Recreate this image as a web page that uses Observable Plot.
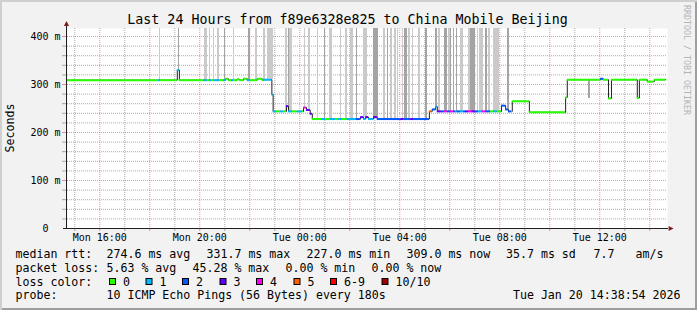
<!DOCTYPE html>
<html><head><meta charset="utf-8">
<script src="https://cdn.jsdelivr.net/npm/d3@7"></script>
<script src="https://cdn.jsdelivr.net/npm/@observablehq/plot@0.6"></script>
<style>
html,body{margin:0;padding:0;background:#fff;}
#chart{position:relative;width:697px;height:310px;background:#f2f2f2;overflow:hidden;
 box-shadow: inset 2px 2px 0 #cfcfcf, inset -2px -2px 0 #9e9e9e;}
#chart svg{position:absolute;left:0;top:0;}
</style></head><body><div id="chart"></div>
<script>
// ---------- data ----------
const titleText = "Last 24 Hours from f89e6328e825 to China Mobile Beijing";
const graphStart = "19T14:42:30", graphEnd = "20T14:42:30";

// median rtt steps (start time, value in ms, lost pings of 10)
const medStart = ["19T14:42","19T18:21","19T18:26","19T19:06","19T19:11","19T20:09","19T20:18","19T20:23","19T20:28","19T20:35",
 "19T20:47","19T20:57","19T21:02","19T21:09","19T21:16","19T21:21","19T21:30","19T21:35","19T21:45","19T21:54",
 "19T22:02","19T22:18","19T22:30","19T22:33","19T22:53","19T22:56","19T23:04","19T23:14","19T23:21","19T23:28",
 "19T23:33","19T23:42","19T23:54","20T00:06","20T00:09","20T00:16","20T00:25","20T00:30","20T00:54","20T01:02",
 "20T01:14","20T01:26","20T01:33","20T01:42","20T01:54","20T02:16","20T02:26","20T02:33","20T02:38","20T02:45",
 "20T02:57","20T03:06","20T04:02","20T04:09","20T04:26","20T04:33","20T05:11","20T05:18","20T05:26","20T05:30",
 "20T05:40","20T05:47","20T05:54","20T06:02","20T06:09","20T06:14","20T06:18","20T06:26","20T06:33","20T06:38",
 "20T06:45","20T06:54","20T07:02","20T07:09","20T07:18","20T07:26","20T07:38","20T07:45","20T07:54","20T08:04",
 "20T08:14","20T08:21","20T08:28","20T08:30","20T09:11","20T10:38","20T10:42","20T12:02","20T12:09","20T12:21",
 "20T12:28","20T13:30","20T13:35","20T13:54","20T14:11"];
const medValue = [309,309,309,330,309,309,309,309,309,309,
 309,309,312,309,309,309,311,309,312,309,
 309,312,309,310,279,244,244,244,244,255,
 244,244,244,244,252,247,239,228,228,228,
 228,228,228,228,228,228,232,228,232,228,
 232,228,228,228,228,228,244,248,254,244,
 244,244,244,244,244,244,244,244,244,244,
 244,244,244,244,244,244,244,244,244,256,
 248,244,244,265,242,273,310,312,310,271,
 310,272,310,306,310];
const medLoss = [0,1,0,1,0,1,0,1,0,1,
 0,1,0,0,1,0,0,0,0,1,
 0,0,0,1,1,1,0,1,0,3,
 1,0,1,0,4,3,3,0,1,0,
 1,0,1,0,1,2,3,1,3,1,
 3,2,3,2,3,2,5,2,1,3,
 2,4,2,4,2,1,2,1,2,3,
 4,3,2,1,4,2,0,1,0,2,
 2,2,0,0,0,0,0,2,0,0,
 0,0,0,0,0];
const medEnd = "20T14:38";

// smoke: pings far above the median (off the top of the graph)
const spikeStart = ["19T18:23","19T19:09","19T20:11","19T20:23","19T20:33","19T20:42","19T20:59","19T21:21","19T21:57","19T22:14",
 "19T22:33","19T22:42","19T23:26","19T23:32","19T23:36","20T00:11","20T00:21","20T00:42","20T01:00","20T01:11",
 "20T01:38","20T01:50","20T02:02","20T02:16","20T02:32","20T02:57","20T03:21","20T03:30","20T03:38","20T03:47",
 "20T03:54","20T04:06","20T04:11","20T04:21","20T04:31","20T04:45","20T05:02","20T05:26","20T05:33","20T05:47",
 "20T05:57","20T06:02","20T06:08","20T06:16","20T06:26","20T06:45","20T06:50","20T07:06","20T07:11","20T07:26",
 "20T07:33","20T07:46","20T08:18"];
const spikeEnd = ["19T18:26","19T19:11","19T20:18","19T20:26","19T20:35","19T20:48","19T21:02","19T21:23","19T22:02","19T22:18",
 "19T22:38","19T22:56","19T23:30","19T23:36","19T23:42","20T00:14","20T00:26","20T00:44","20T01:02","20T01:18",
 "20T01:40","20T01:54","20T02:10","20T02:18","20T02:42","20T03:08","20T03:26","20T03:33","20T03:42","20T03:52",
 "20T03:57","20T04:09","20T04:18","20T04:26","20T04:33","20T04:50","20T05:06","20T05:30","20T05:38","20T05:54",
 "20T06:02","20T06:04","20T06:11","20T06:18","20T06:33","20T06:50","20T07:02","20T07:09","20T07:20","20T07:30",
 "20T07:38","20T07:59","20T08:23"];
const spikeShade = [1,2,1,1,1,1,2,1,2,1,
 1,1,1,2,1,1,1,1,2,1,
 1,1,1,2,1,2,1,2,1,1,
 1,1,2,1,1,1,2,2,1,2,
 1,2,2,2,1,1,2,1,1,2,
 1,1,2];
const offChartRtt = 1000;
// smoke below the median
const lowSmokeStart = ["20T11:33"], lowSmokeEnd = ["20T11:38"], lowSmokeMin = [271];

const lossLabels = ["0","1","2","3","4","5","6-9","10/10"];
const lossColors = ["#26ff00","#00b8ff","#0059ff","#5e00ff","#ff00f6","#ff5e00","#ff0000","#a10000"];
const smokeGrays = ["#cacaca","#a4a4a4"];

const yMax = 416.67;
const yTicks = [0,100,200,300,400];
const yTickLabels = ["0","100 m","200 m","300 m","400 m"];
const xTicks = ["19T16:00","19T20:00","20T00:00","20T04:00","20T08:00","20T12:00"];
const xTickLabels = ["Mon 16:00","Mon 20:00","Tue 00:00","Tue 04:00","Tue 08:00","Tue 12:00"];

const statNames = ["avg","max","min","now"];
const medianRtt = [274.6, 331.7, 227.0, 309.0];
const rttSd = 35.7, rttAmS = 7.7;
const packetLoss = [5.63, 45.28, 0.00, 0.00];
const probeText = "10 ICMP Echo Pings (56 Bytes) every 180s";
const stampText = "Tue Jan 20 14:38:54 2026";

// ---------- build ----------
const T = s => new Date("2026-01-" + s);
const lossIndex = n => n >= 10 ? 7 : n >= 6 ? 6 : n;
const segs = medStart.map((s, i) => ({
  start: T(s), end: T(i + 1 < medStart.length ? medStart[i + 1] : medEnd),
  value: medValue[i], loss: medLoss[i]
}));
const linePts = segs.map(d => ({t: d.start, v: d.value})).concat([{t: T(medEnd), v: medValue[medValue.length - 1]}]);
function medianAt(t) { let v = segs[0].value; for (const d of segs) if (d.start <= t) v = d.value; return v; }
const spikes = spikeStart.map((s, i) => ({start: T(s), end: T(spikeEnd[i]), low: medianAt(T(s)), high: offChartRtt, fill: smokeGrays[spikeShade[i] - 1]}));
const lowSmoke = lowSmokeStart.map((s, i) => ({start: T(s), end: T(lowSmokeEnd[i]), low: lowSmokeMin[i], high: medianAt(T(s)), fill: smokeGrays[1]}));

const x0 = T(graphStart), x1 = T(graphEnd);
const hours = d3.timeHour.every(1).range(x0, x1);
const majorHours = hours.filter(d => d.getHours() % 2 === 0);
const minorHours = hours.filter(d => d.getHours() % 2 !== 0);
const yMinor = d3.range(20, yMax, 20).filter(v => v % 100 !== 0);
const yMajor = yTicks.filter(v => v > 0);

const gridStyle = {stroke: "rgb(143,143,143)", strokeOpacity: 0.75, strokeDasharray: "1,1"};
const mgridStyle = {stroke: "rgb(222,79,79)", strokeOpacity: 0.6, strokeDasharray: "1,1"};
const tickGrid = {stroke: "rgb(143,143,143)", strokeOpacity: 0.75};
const tickMgrid = {stroke: "rgb(222,79,79)", strokeOpacity: 0.6};

const arrowUp = {draw(c) { c.moveTo(0, -2.6); c.lineTo(2.6, 2.4); c.lineTo(-2.6, 2.4); c.closePath(); }};
const arrowRight = {draw(c) { c.moveTo(2.6, 0); c.lineTo(-2.4, 2.6); c.lineTo(-2.4, -2.6); c.closePath(); }};

const plot = Plot.plot({
  width: 697, height: 245,
  marginLeft: 67, marginRight: 30, marginTop: 28, marginBottom: 17,
  x: {type: "time", domain: [x0, x1], axis: null, label: null},
  y: {domain: [0, yMax], axis: null, label: null},
  color: {type: "identity"},
  style: {background: "transparent", fontFamily: "'DejaVu Sans Mono', monospace", fontSize: "10px", overflow: "visible", color: "#000"},
  marks: [
    Plot.frame({fill: "white", stroke: "none"}),
    Plot.ruleX(minorHours, gridStyle),
    Plot.ruleY(yMinor, gridStyle),
    Plot.ruleX(majorHours, mgridStyle),
    Plot.ruleY(yMajor, mgridStyle),
    Plot.rect(spikes, {x1: "start", x2: "end", y1: "low", y2: "high", fill: "fill", clip: true, shapeRendering: "crispEdges"}),
    Plot.rect(lowSmoke, {x1: "start", x2: "end", y1: "low", y2: "high", fill: "fill", clip: true, shapeRendering: "crispEdges"}),
    Plot.line(linePts, {x: "t", y: "v", curve: "step-after", stroke: "#202020", strokeWidth: 1}),
    Plot.ruleY(segs, {x1: "start", x2: "end", y: "value", stroke: d => lossColors[lossIndex(d.loss)], strokeWidth: 2}),
    // small ticks outside the canvas
    Plot.ruleX(minorHours, {y1: 0, y2: 0, insetBottom: -3, ...tickGrid}),
    Plot.ruleX(majorHours, {y1: 0, y2: 0, insetBottom: -3, ...tickMgrid}),
    Plot.ruleY(yMinor, {x1: x0, x2: x0, insetLeft: -4, dx: -1, ...tickGrid}),
    Plot.ruleY(yMajor, {x1: x0, x2: x0, insetLeft: -4, dx: -1, ...tickMgrid}),
    // axes
    Plot.ruleY([0], {stroke: "#1f1f1f", insetLeft: -4, insetRight: -1}),
    Plot.ruleX([x0], {stroke: "#1f1f1f", dx: -1, insetTop: -5}),
    Plot.dot([x0], {x: d => d, y: yMax, symbol: arrowUp, fill: "#801f1f", stroke: "none", dx: -1, dy: -4.8}),
    Plot.dot([x1], {x: d => d, y: 0, symbol: arrowRight, fill: "#801f1f", stroke: "none", dx: 3.5, dy: 0}),
    Plot.text(xTicks.map((s, i) => ({t: T(s), label: xTickLabels[i]})), {x: "t", text: "label", frameAnchor: "bottom", dy: 9.3, lineAnchor: "middle", fill: "#000", fontSize: 10}),
    Plot.text(yTicks.map((v, i) => ({v, label: yTickLabels[i]})), {y: "v", text: "label", frameAnchor: "left", dx: -22, textAnchor: "middle", lineAnchor: "middle", fill: "#000", fontSize: 10})
  ]
});
const chart = document.getElementById("chart");
chart.appendChild(plot);

// ---------- title, labels, legend ----------
const ov = d3.create("svg").attr("width", 697).attr("height", 310)
  .style("pointer-events", "none")
  .attr("font-family", "'DejaVu Sans Mono', monospace").attr("fill", "#000");
ov.append("text").attr("x", 347.5).attr("y", 24).attr("text-anchor", "middle").attr("font-size", 13.3).text(titleText);
ov.append("text").attr("transform", "translate(14,128) rotate(-90)").attr("text-anchor", "middle").attr("font-size", 11.6).text("Seconds");
ov.append("text").attr("transform", "translate(684,5) rotate(90)").attr("font-size", 8.3).attr("fill", "#b4b4b4").text("RRDTOOL / TOBI OETIKER");

const fs = 11.6;
const rowY = [258, 271.8, 285.6, 299.4];
function put(x, y, s, anchor) {
  ov.append("text").attr("x", x).attr("y", y).attr("font-size", fs).attr("text-anchor", anchor || "start").attr("xml:space", "preserve").text(s);
}
put(15.5, rowY[0], "median rtt:");
const r1x = [106.5, 206.5, 306.5, 406.5];
medianRtt.forEach((v, i) => put(r1x[i], rowY[0], `${v.toFixed(1)} ms ${statNames[i]}`));
put(506, rowY[0], `${rttSd.toFixed(1)} ms sd`);
put(593.5, rowY[0], `${rttAmS.toFixed(1)}`);
put(635.5, rowY[0], "am/s");

put(15.5, rowY[1], "packet loss:");
const r2x = [106.5, 192.5, 285.5, 371.5];
packetLoss.forEach((v, i) => put(r2x[i], rowY[1], `${v.toFixed(2)} % ${statNames[i]}`));

put(15.5, rowY[2], "loss color:");
const swX = [109, 145.5, 182, 219.5, 256, 293.5, 330, 381.5];
lossLabels.forEach((lab, i) => {
  ov.append("rect").attr("x", swX[i] + 0.5).attr("y", 278.5).attr("width", 6).attr("height", 6)
    .attr("fill", lossColors[i]).attr("stroke", "#000").attr("stroke-width", 1);
  put(swX[i] + 14, rowY[2], lab);
});

put(15.5, rowY[3], "probe:");
put(106.5, rowY[3], probeText);
put(680.5, rowY[3], stampText, "end");

chart.appendChild(ov.node());
</script></body></html>
